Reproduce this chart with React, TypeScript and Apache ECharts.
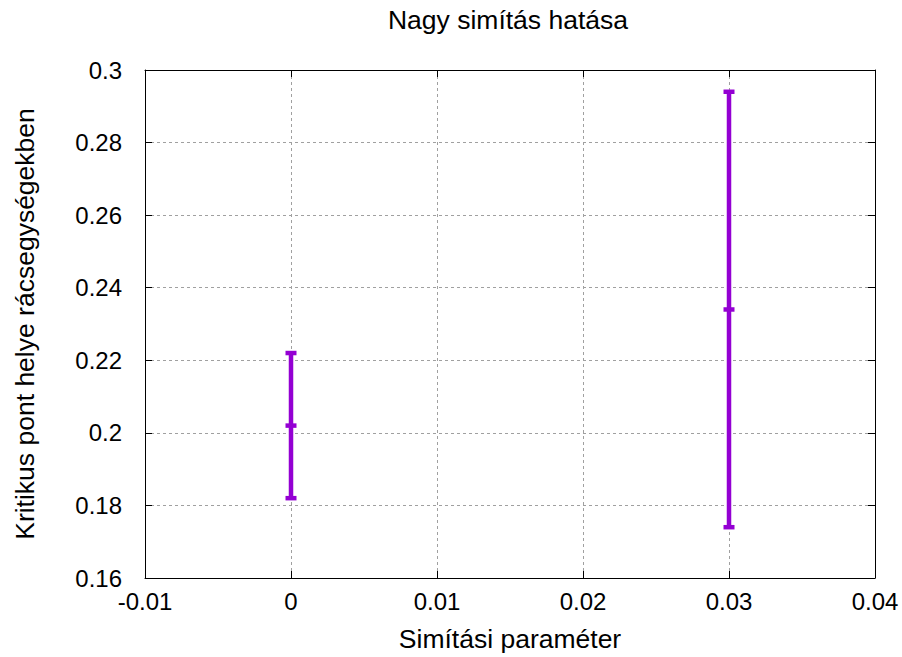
import React, { useEffect, useRef } from "react";
import * as echarts from "echarts";

const xValues = [0, 0.03];
const lowValues = [0.182, 0.174];
const midValues = [0.202, 0.234];
const highValues = [0.222, 0.294];

const FONT = "Liberation Sans, Arial, sans-serif";
const COLOR = "#9400D3";
const TICK_SIZE = 24;
const NAME_SIZE = 26.5;

export default function App() {
  const ref = useRef<HTMLDivElement>(null);
  useEffect(() => {
    if (!ref.current) return;
    const chart = echarts.init(ref.current, undefined, { renderer: "svg" });
    const data = xValues.map((x, i) => [x, lowValues[i], midValues[i], highValues[i]]);
    const tickStyle = { show: true, inside: true, length: 7, lineStyle: { color: "#000", width: 1 } };
    const gridStyle = { show: true, lineStyle: { color: "#a0a0a0", type: [3, 3] as any, width: 1 } };
    chart.setOption({
      animation: false,
      backgroundColor: "#fff",
      graphic: [
        {
          type: "text",
          x: 508,
          y: 20,
          style: {
            text: "Nagy simítás hatása",
            textAlign: "center",
            textVerticalAlign: "middle",
            fontFamily: FONT,
            fontSize: NAME_SIZE,
            fill: "#000",
          },
        },
      ],
      grid: { left: 145, right: 27, top: 70, bottom: 79 },
      xAxis: [
        {
          type: "value",
          min: -0.01,
          max: 0.04,
          interval: 0.01,
          name: "Simítási paraméter",
          nameLocation: "middle",
          nameGap: 47,
          nameTextStyle: { fontFamily: FONT, fontSize: NAME_SIZE, color: "#000" },
          axisLine: { show: true, onZero: false, lineStyle: { color: "#000", width: 1 } },
          axisTick: tickStyle,
          axisLabel: { fontFamily: FONT, fontSize: TICK_SIZE, color: "#000", margin: 11 },
          splitLine: gridStyle,
        },
        {
          type: "value",
          position: "top",
          min: -0.01,
          max: 0.04,
          interval: 0.01,
          axisLine: { show: true, onZero: false, lineStyle: { color: "#000", width: 1 } },
          axisTick: tickStyle,
          axisLabel: { show: false },
          splitLine: { show: false },
        },
      ],
      yAxis: [
        {
          type: "value",
          min: 0.16,
          max: 0.3,
          interval: 0.02,
          name: "Kritikus pont helye rácsegységekben",
          nameLocation: "middle",
          nameGap: 107,
          nameTextStyle: { fontFamily: FONT, fontSize: NAME_SIZE, color: "#000" },
          axisLine: { show: true, onZero: false, lineStyle: { color: "#000", width: 1 } },
          axisTick: tickStyle,
          axisLabel: {
            fontFamily: FONT,
            fontSize: TICK_SIZE,
            color: "#000",
            margin: 23,
            formatter: (v: number) => String(parseFloat(v.toFixed(2))),
          },
          splitLine: gridStyle,
        },
        {
          type: "value",
          position: "right",
          min: 0.16,
          max: 0.3,
          interval: 0.02,
          axisLine: { show: true, onZero: false, lineStyle: { color: "#000", width: 1 } },
          axisTick: tickStyle,
          axisLabel: { show: false },
          splitLine: { show: false },
        },
      ],
      series: [
        {
          type: "custom",
          xAxisIndex: 0,
          yAxisIndex: 0,
          data,
          renderItem: (params: any, api: any) => {
            const x = api.value(0);
            const lo = api.coord([x, api.value(1)]);
            const mid = api.coord([x, api.value(2)]);
            const hi = api.coord([x, api.value(3)]);
            const hw = 5.5;
            const style = { stroke: COLOR, lineWidth: 4.5 };
            return {
              type: "group",
              children: [
                { type: "line", shape: { x1: hi[0], y1: hi[1], x2: lo[0], y2: lo[1] }, style },
                { type: "line", shape: { x1: hi[0] - hw, y1: hi[1], x2: hi[0] + hw, y2: hi[1] }, style },
                { type: "line", shape: { x1: lo[0] - hw, y1: lo[1], x2: lo[0] + hw, y2: lo[1] }, style },
                { type: "line", shape: { x1: mid[0] - hw, y1: mid[1], x2: mid[0] + hw, y2: mid[1] }, style },
              ],
            };
          },
        },
      ],
    });
    return () => chart.dispose();
  }, []);
  return (
    <div
      ref={ref}
      style={{ position: "absolute", left: 0, top: 0, width: 902, height: 657 }}
    />
  );
}
